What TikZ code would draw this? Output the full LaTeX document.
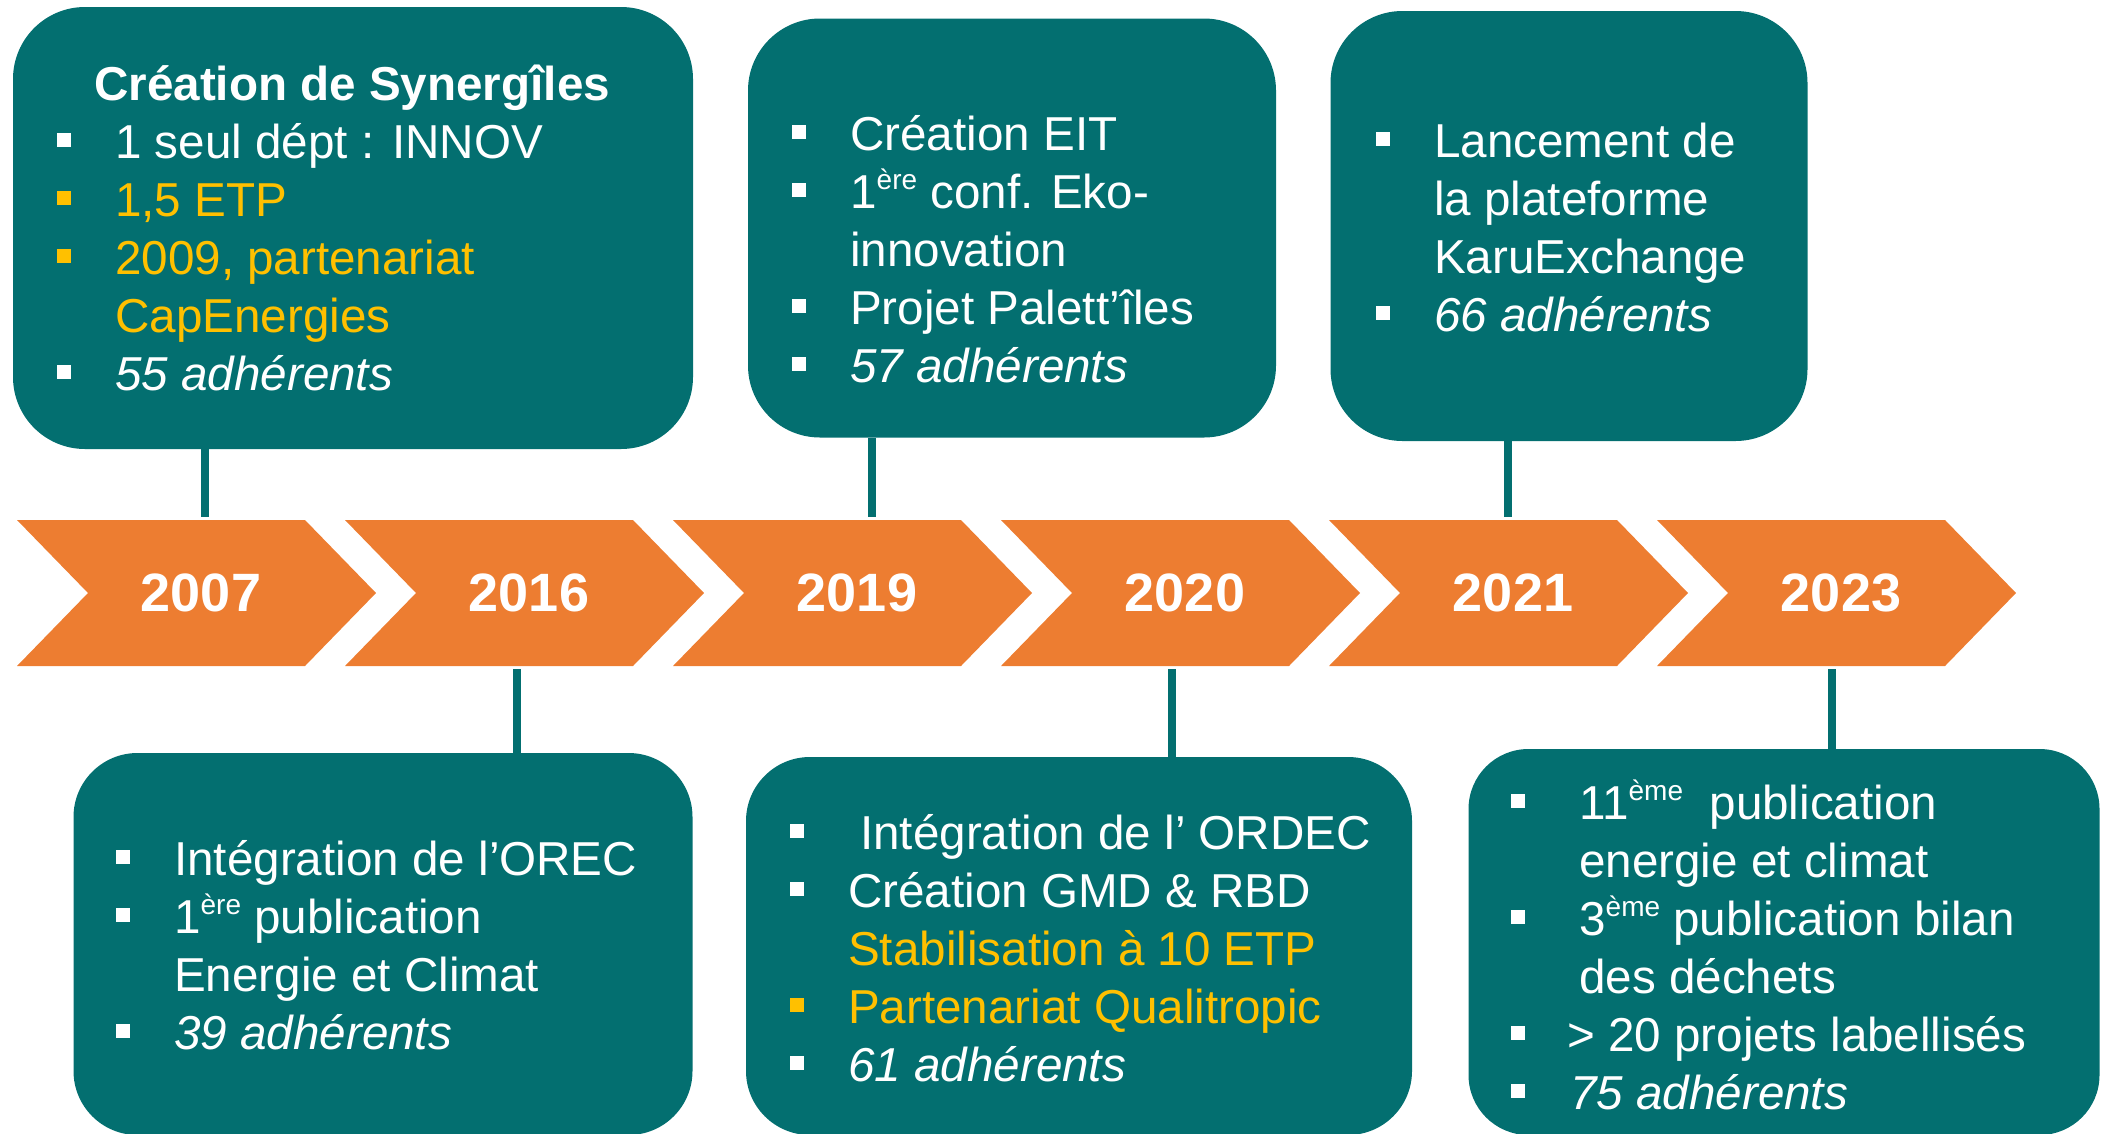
\documentclass[tikz,border=0pt]{standalone}
\usepackage{fontspec}
\setmainfont{Liberation Sans}
\usepackage{xcolor}
\usepackage{tikz}
\usetikzlibrary{positioning, calc}

\definecolor{boxteal}{RGB}{3,111,112}
\definecolor{chevorange}{RGB}{237,125,49}
\definecolor{etpgold}{RGB}{255,192,0}

\newlength{\bulgap}
\setlength{\bulgap}{58pt}
\newcommand{\bul}[1][white]{\makebox[\bulgap][l]{\textcolor{#1}{\rule[11pt]{14pt}{14pt}}}}
\newcommand{\cont}{\hspace*{\bulgap}}
\newcommand{\gold}[1]{\textcolor{etpgold}{#1}}
\newcommand{\sups}[1]{\raisebox{19pt}{\fontsize{28}{30}\selectfont #1}}

\begin{document}
\begin{tikzpicture}[
    x=1pt, y=-1pt,
    infobox/.style={rectangle, rounded corners=#1, fill=boxteal, inner sep=0pt},
    infobox/.default=72pt,
    infotext/.style={anchor=base west, inner sep=0pt, text=white, font=\fontsize{47.6}{58}\selectfont},
    yearlbl/.style={inner sep=0pt, minimum height=152pt, text=white, font=\fontsize{54}{60}\selectfont\bfseries},
    conn/.style={draw=boxteal, line width=8pt},
]
\useasboundingbox (0,0) rectangle (2101,1133);
\clip (0,0) rectangle (2101,1133);

% chevrons
\foreach \yr [count=\i from 0] in {2007,2016,2019,2020,2021,2023} {
    \fill[chevorange] ($(17,520)+(328*\i,0)$) -- ++(288,0) -- ++(71,73) -- ++(-71,73) -- ++(-288,0) -- ++(71,-73) -- cycle;
    \node[yearlbl] (y\yr) at ($(201,593)+(328*\i,0)$) {\yr};
}

% boxes above
\node[infobox, minimum width=680pt, minimum height=442pt] (t2007) at (353,228) {};
\node[infobox, minimum width=528pt, minimum height=419pt] (t2019) at (1012,228) {};
\node[infobox, minimum width=477pt, minimum height=430pt] (t2021) at (1569,226) {};

% boxes below
\node[infobox=64pt, minimum width=619pt, minimum height=382pt] (b2016) at (383,944) {};
\node[infobox=64pt, minimum width=666pt, minimum height=378pt] (b2020) at (1079,946) {};
\node[infobox=60pt, minimum width=631pt, minimum height=386pt] (b2023) at (1784,942) {};

% texts
\node[infotext] (x2007) at (57,100) {\parbox[t]{700pt}{\raggedright\lineskiplimit=-50pt
    \hspace*{37pt}\textbf{Création de Synergîles}\\
    \bul 1 seul dépt : INNOV\\
    \bul[etpgold]\gold{1,5 ETP}\\
    \bul[etpgold]\gold{2009, partenariat}\\
    \cont\gold{CapEnergies}\\
    \bul\textit{55 adhérents}}};
\node[infotext] (x2019) at (792,150) {\parbox[t]{700pt}{\raggedright\lineskiplimit=-50pt
    \bul Création EIT\\
    \bul 1\sups{ère} conf. Eko-\\
    \cont innovation\\
    \bul Projet Palett’îles\\
    \bul\textit{57 adhérents}}};
\node[infotext] (x2021) at (1376,157) {\parbox[t]{700pt}{\raggedright\lineskiplimit=-50pt
    \bul Lancement de\\
    \cont la plateforme\\
    \cont KaruExchange\\
    \bul\textit{66 adhérents}}};
\node[infotext] (x2016) at (116,875) {\parbox[t]{700pt}{\raggedright\lineskiplimit=-50pt
    \bul Intégration de l’OREC\\
    \bul 1\sups{ère} publication\\
    \cont Energie et Climat\\
    \bul\textit{39 adhérents}}};
\node[infotext] (x2020) at (790,849) {\parbox[t]{700pt}{\raggedright\lineskiplimit=-50pt
    \bul\hspace*{12pt}Intégration de l’ ORDEC\\
    \bul Création GMD \& RBD\\
    \cont\gold{Stabilisation à 10 ETP}\\
    \bul[etpgold]\gold{Partenariat Qualitropic}\\
    \bul\textit{61 adhérents}}};
\node[infotext] (x2023) at (1511,819) {\parbox[t]{700pt}{\raggedright\lineskiplimit=-50pt\setlength{\bulgap}{68pt}
    \bul 11\sups{ème}\ \ publication\\
    \cont energie et climat\\
    \bul 3\sups{ème} publication bilan\\
    \cont des déchets\\
    \bul\hspace*{-12pt}> 20 projets labellisés\\
    \bul\hspace*{-9pt}\textit{75 adhérents}}};

% connectors
\foreach \b/\y/\dx in {t2007/y2007/4, t2019/y2019/15, t2021/y2021/-5} {
    \coordinate (k\b) at ($(\y.north)+(\dx,0)$);
    \draw[conn] (k\b) -- (k\b |- \b.south);
}
\foreach \b/\y/\dx in {b2016/y2016/-12, b2020/y2020/-13, b2023/y2023/-9} {
    \coordinate (k\b) at ($(\y.south)+(\dx,0)$);
    \draw[conn] (k\b) -- (k\b |- \b.north);
}
\end{tikzpicture}
\end{document}
